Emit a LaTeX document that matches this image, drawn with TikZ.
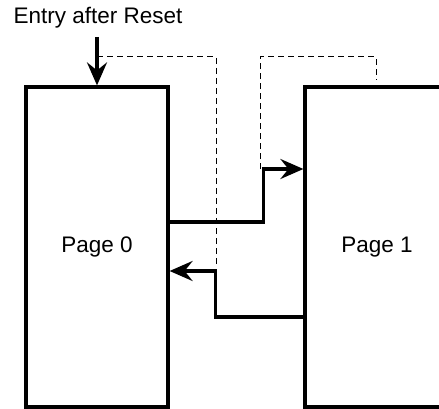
\documentclass[tikz,border=0pt]{standalone}
\usepackage{fontspec}
\setmainfont{Liberation Sans}
\usetikzlibrary{positioning, arrows.meta}

\begin{document}
\begin{tikzpicture}[
    x=0.5pt, y=0.5pt,
    font=\fontsize{11.25}{13}\selectfont,
    page/.style={draw, line width=1.6pt, minimum width=71pt, minimum height=160pt, inner sep=0pt},
    arrow/.style={-{Stealth[length=11.5pt, width=10pt, inset=4pt]}, line width=1.6pt},
    dashline/.style={line width=0.5pt, dash pattern=on 3pt off 2pt}
]
\useasboundingbox (0,0) rectangle (439,408);
\node[page] (p0) at (97,161) {Page 0};
\node[page, minimum width=72pt] (p1) at (377,161) {Page 1};
\node (title) at (98,390) {Entry after Reset};
\coordinate (entry) at (97,371);
\coordinate (split) at (97,351);
\draw[arrow] (entry) -- (p0.north);
% page 0 -> page 1
\draw[arrow] ([yshift=12.5pt]p0.east) -- ++(47pt,0) |- ([yshift=39pt]p1.west);
% page 1 -> page 0
\draw[arrow] ([yshift=-35pt]p1.west) -- ++(-44pt,0) |- ([yshift=-12pt]p0.east);
% dashed lines
\draw[dashline] (split) -- ++(59.5pt,0) -- ++(0,-104pt);
\draw[dashline] ([xshift=-21.5pt, yshift=39pt]p1.west) -- ++(0,56pt) -| ([xshift=-0.5pt, yshift=2.5pt]p1.north);
\end{tikzpicture}
\end{document}
